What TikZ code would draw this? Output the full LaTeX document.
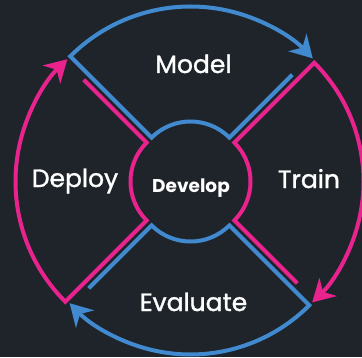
\documentclass[tikz,border=0pt]{standalone}
\usepackage{fontspec}
\setmainfont{Poppins}
\newfontfamily\labfont{Poppins}[FakeBold=1.3]
\usetikzlibrary{arrows.meta,calc}
\definecolor{bg}{HTML}{1E242A}
\definecolor{cblue}{HTML}{418AD0}
\definecolor{cpink}{HTML}{E8238E}
\begin{document}
\begin{tikzpicture}[x=1pt,y=1pt,
  seg/.style={line width=4pt, -{Stealth[length=22pt,width=25pt,inset=7pt]}},
  lab/.style={text=white, font=\labfont\fontsize{25}{25}\selectfont, anchor=base, inner sep=0pt},
  dev/.style={text=white, font=\bfseries\fontsize{18.5}{18.5}\selectfont, anchor=base, inner sep=0pt}]
\fill[bg] (0,0) rectangle (362,357);
\useasboundingbox (0,0) rectangle (362,357);
\coordinate (AM) at (190.5,180.5);
\coordinate (AT) at (195.5,175.5);
\coordinate (AE) at (190.5,170.5);
\coordinate (AD) at (185.5,175.5);
\begin{scope}
\clip (0,0) rectangle (362,357);
% Model
\draw[seg, cblue] ($(AM)+(45:144)$) -- ($(AM)+(45:55)$) arc[start angle=45, end angle=135, radius=55]
  -- ($(AM)+(135:170)$) arc[start angle=135, end angle=44, radius=170];
% Train
\draw[seg, cpink] ($(AT)+(-45:144)$) -- ($(AT)+(-45:55)$) arc[start angle=-45, end angle=45, radius=55]
  -- ($(AT)+(45:168)$) arc[start angle=45, end angle=-46, radius=168];
% Evaluate
\draw[seg, cblue] ($(AE)+(-135:144)$) -- ($(AE)+(-135:55)$) arc[start angle=-135, end angle=-45, radius=55]
  -- ($(AE)+(-45:168)$) arc[start angle=-45, end angle=-136, radius=168];
% Deploy
\draw[seg, cpink] ($(AD)+(135:144)$) -- ($(AD)+(135:55)$) arc[start angle=135, end angle=225, radius=55]
  -- ($(AD)+(225:170)$) arc[start angle=225, end angle=134, radius=170];
\end{scope}
\node[lab] (model) at (193.5,284) {Model};
\node[lab] (train) at (309,169) {Train};
\node[lab] (evaluate) at (193.5,46) {Evaluate};
\node[lab] (deploy) at (75,170) {Deploy};
\node[dev] (develop) at (191,165) {Develop};
\end{tikzpicture}
\end{document}
